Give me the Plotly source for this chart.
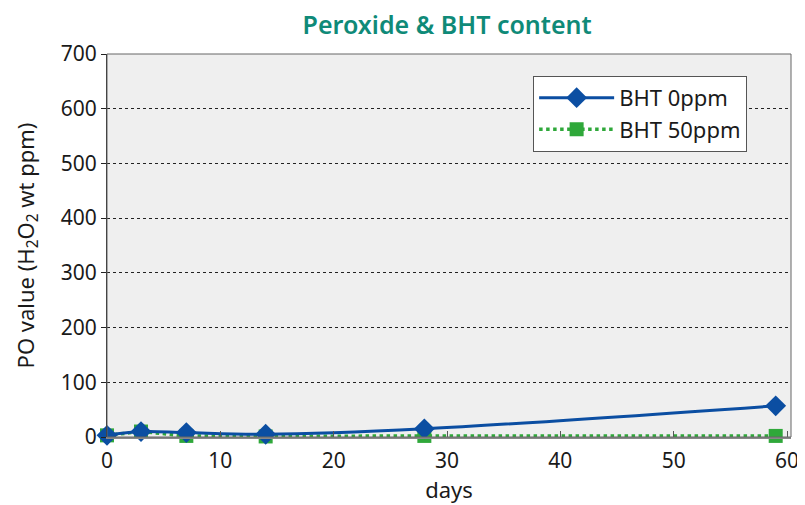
import plotly.graph_objects as go

days = [0, 3, 7, 14, 28, 59]
bht_0ppm = [3, 10, 8, 5, 15, 57]
bht_50ppm = [3, 10, 2, 1, 2, 2]

y_ticks = [0, 100, 200, 300, 400, 500, 600, 700]
x_ticks = [0, 10, 20, 30, 40, 50, 60]

BLUE = "#0b4ea2"
GREEN = "#2fa83a"
FONT = "Noto Sans"

fig = go.Figure()

fig.add_trace(go.Scatter(
    x=days, y=bht_50ppm, name="BHT 50ppm",
    mode="lines+markers",
    line=dict(color=GREEN, width=3.5, dash="dot"),
    marker=dict(symbol="square", size=14, color=GREEN),
    cliponaxis=False,
))

fig.add_trace(go.Scatter(
    x=days, y=bht_0ppm, name="BHT 0ppm",
    mode="lines+markers",
    line=dict(color=BLUE, width=3, shape="spline", smoothing=1.0),
    marker=dict(symbol="diamond", size=16, color=BLUE),
    cliponaxis=False,
))

# page body has an 8px margin, so the figure is shrunk to fit the window
fig.update_layout(
    width=797, height=497,
    margin=dict(l=99, r=14, t=46, b=68),
    paper_bgcolor="white",
    plot_bgcolor="#efefef",
    font=dict(family=FONT, size=21, color="#1a1a1a"),
    title=dict(
        text="Peroxide & BHT content",
        x=0.551, xanchor="center", y=0.966, yanchor="middle",
        font=dict(family=FONT, size=25, color="#0f8a78", weight=600),
    ),
    showlegend=True,
    legend=dict(
        x=0.623, y=0.943, xanchor="left", yanchor="top",
        bgcolor="white", bordercolor="#555555", borderwidth=1,
        font=dict(size=22), traceorder="reversed",
        itemwidth=75, tracegroupgap=0,
    ),
    xaxis=dict(
        range=[0, 60.35], tickvals=x_ticks, automargin=False,
        showgrid=False, zeroline=False,
        showline=True, linecolor="#888888", linewidth=2,
        ticks="inside", ticklen=6, tickcolor="#555555",
        tickfont=dict(size=21), ticklabelstandoff=4,
        title=dict(text="days", standoff=6, font=dict(size=22)),
    ),
    yaxis=dict(
        range=[0, 700], tickvals=y_ticks, automargin=False,
        showgrid=True, gridcolor="#222222", griddash="dot", gridwidth=1,
        zeroline=False,
        showline=True, linecolor="#222222", linewidth=1,
        ticks="outside", ticklen=5, tickcolor="#222222",
        tickfont=dict(size=21),
        title=dict(text="PO value (H<sub>2</sub>O<sub>2</sub> wt ppm)", standoff=20, font=dict(size=22)),
    ),
)

# plot frame (top and right edges)
fig.add_shape(type="rect", xref="paper", yref="paper", x0=0, y0=0, x1=1, y1=1,
              line=dict(color="#666666", width=1), layer="above")

fig.write_html("out.html")
